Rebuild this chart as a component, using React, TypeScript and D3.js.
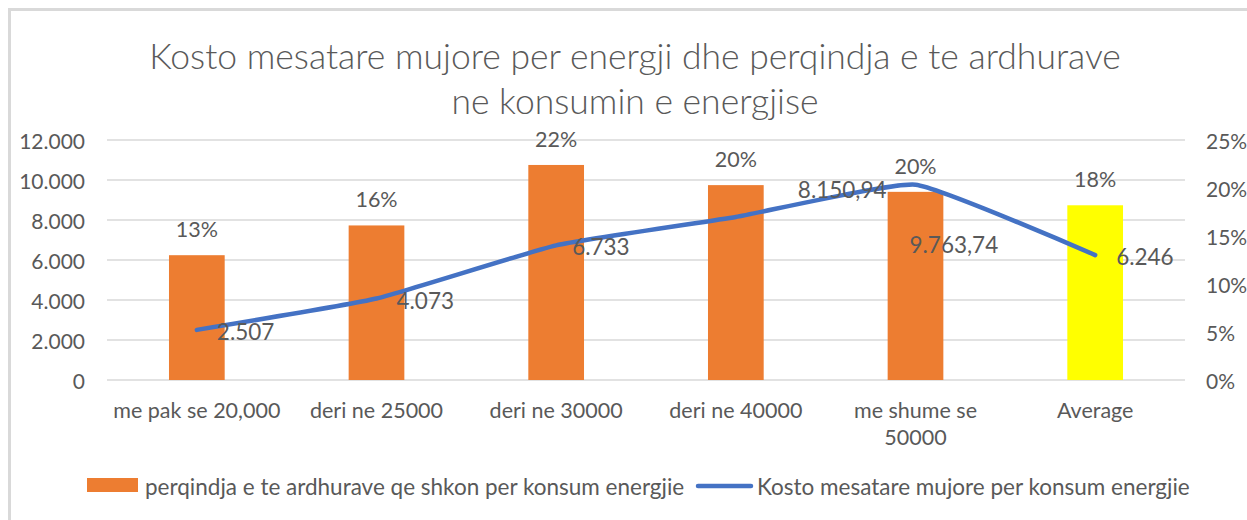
import React from "react";
import * as d3 from "d3";

const categories = [
  "me pak se 20,000",
  "deri ne 25000",
  "deri ne 30000",
  "deri ne 40000",
  "me shume se 50000",
  "Average",
];
const incomeShare = [0.13, 0.161, 0.224, 0.203, 0.196, 0.182];
const monthlyCost = [2507, 4073, 6733, 8150.94, 9763.74, 6246];
const leftTicks = [0, 2000, 4000, 6000, 8000, 10000, 12000];
const rightTicks = [0, 0.05, 0.1, 0.15, 0.2, 0.25];
const titleLines = [
  "Kosto mesatare mujore per energji dhe perqindja e te ardhurave",
  "ne konsumin e energjise",
];
const seriesNames = [
  "perqindja e te ardhurave qe shkon per konsum energjie",
  "Kosto mesatare mujore per konsum energjie",
];

// styling / layout
const W = 1247;
const H = 520;
const ORANGE = "#ED7D31";
const YELLOW = "#FFFF00";
const BLUE = "#4472C4";
const TEXT = "#595959";
const GRID = "#D9D9D9";
const FONT = "Lato, 'Open Sans', sans-serif";
const plot = { left: 107, right: 1185, top: 140, bottom: 380 };
// manual data label offsets for the line labels (dx, dy from point)
const lineLabelOffsets: [number, number][] = [
  [20, 2],
  [20, 2],
  [16, 1],
  [62, -27],
  [-6, 60],
  [21, 1],
];

const locale = d3.formatLocale({
  decimal: ",",
  thousands: ".",
  grouping: [3],
  currency: ["", ""],
});
const fmtInt = locale.format(",.0f");
const fmtDec = locale.format(",.2f");
const fmtPct = d3.format(".0%");

function wrapLabel(s: string): string[] {
  if (s.length <= 16) return [s];
  const i = s.lastIndexOf(" ");
  return [s.slice(0, i), s.slice(i + 1)];
}

export default function App() {
  const x = d3
    .scaleBand<string>()
    .domain(categories)
    .range([plot.left, plot.right])
    .paddingInner(0)
    .paddingOuter(0);
  const yL = d3.scaleLinear().domain([0, 12000]).range([plot.bottom, plot.top]);
  const yR = d3.scaleLinear().domain([0, 0.25]).range([plot.bottom, plot.top]);
  const barW = x.bandwidth() * 0.31;
  const cx = (c: string) => (x(c) as number) + x.bandwidth() / 2;

  const pts: [number, number][] = categories.map((c, i) => [cx(c), yL(monthlyCost[i])]);
  const line = d3.line().curve(d3.curveCardinal.tension(0.6))(pts) || "";

  return (
    <svg
      width={W}
      height={H}
      style={{ position: "absolute", left: 0, top: 0, background: "#fff" }}
      fontFamily={FONT}
    >
      <rect x={0} y={0} width={W} height={H} fill="#fff" />
      <rect x={9.5} y={9.5} width={W + 20} height={H + 20} fill="none" stroke={GRID} strokeWidth={3} />

      {/* title */}
      {titleLines.map((t, i) => (
        <text
          key={i}
          x={635}
          y={55 + i * 45}
          textAnchor="middle"
          dominantBaseline="central"
          fontSize={35.5}
          fontWeight={300}
          fill={TEXT}
        >
          {t}
        </text>
      ))}

      {/* gridlines */}
      {leftTicks.map((t) => (
        <line key={t} x1={plot.left} x2={plot.right} y1={yL(t)} y2={yL(t)} stroke={GRID} strokeWidth={1.5} />
      ))}

      {/* left axis labels */}
      {leftTicks.map((t) => (
        <text key={"l" + t} x={85} y={yL(t)} textAnchor="end" dominantBaseline="central" fontSize={21} fill={TEXT}>
          {fmtInt(t)}
        </text>
      ))}
      {/* right axis labels */}
      {rightTicks.map((t) => (
        <text key={"r" + t} x={1206} y={yR(t)} textAnchor="start" dominantBaseline="central" fontSize={21} fill={TEXT}>
          {fmtPct(t)}
        </text>
      ))}

      {/* bars */}
      {categories.map((c, i) => (
        <rect
          key={"b" + c}
          x={cx(c) - barW / 2}
          y={yR(incomeShare[i])}
          width={barW}
          height={plot.bottom - yR(incomeShare[i])}
          fill={i === categories.length - 1 ? YELLOW : ORANGE}
        />
      ))}
      {/* bar labels */}
      {categories.map((c, i) => (
        <text
          key={"bl" + c}
          x={cx(c)}
          y={yR(incomeShare[i]) - 26}
          textAnchor="middle"
          dominantBaseline="central"
          fontSize={21.5}
          fill={TEXT}
        >
          {fmtPct(incomeShare[i])}
        </text>
      ))}

      {/* line */}
      <path d={line} fill="none" stroke={BLUE} strokeWidth={4.5} strokeLinecap="round" strokeLinejoin="round" />
      {pts.map((p, i) => (
        <text
          key={"ll" + i}
          x={p[0] + lineLabelOffsets[i][0]}
          y={p[1] + lineLabelOffsets[i][1]}
          dominantBaseline="central"
          fontSize={22.5}
          fill={TEXT}
        >
          {Number.isInteger(monthlyCost[i]) ? fmtInt(monthlyCost[i]) : fmtDec(monthlyCost[i])}
        </text>
      ))}

      {/* category labels */}
      {categories.map((c) =>
        wrapLabel(c).map((ln, j) => (
          <text
            key={"c" + c + j}
            x={cx(c)}
            y={410 + j * 27}
            textAnchor="middle"
            dominantBaseline="central"
            fontSize={21.5}
            fill={TEXT}
          >
            {ln}
          </text>
        ))
      )}

      {/* legend */}
      <rect x={87} y={478} width={51} height={14} fill={ORANGE} />
      <text x={145} y={486} dominantBaseline="central" fontSize={22.5} fill={TEXT}>
        {seriesNames[0]}
      </text>
      <line x1={698} x2={751} y1={486} y2={486} stroke={BLUE} strokeWidth={4.5} strokeLinecap="round" />
      <text x={757} y={486} dominantBaseline="central" fontSize={22.5} fill={TEXT}>
        {seriesNames[1]}
      </text>
    </svg>
  );
}
